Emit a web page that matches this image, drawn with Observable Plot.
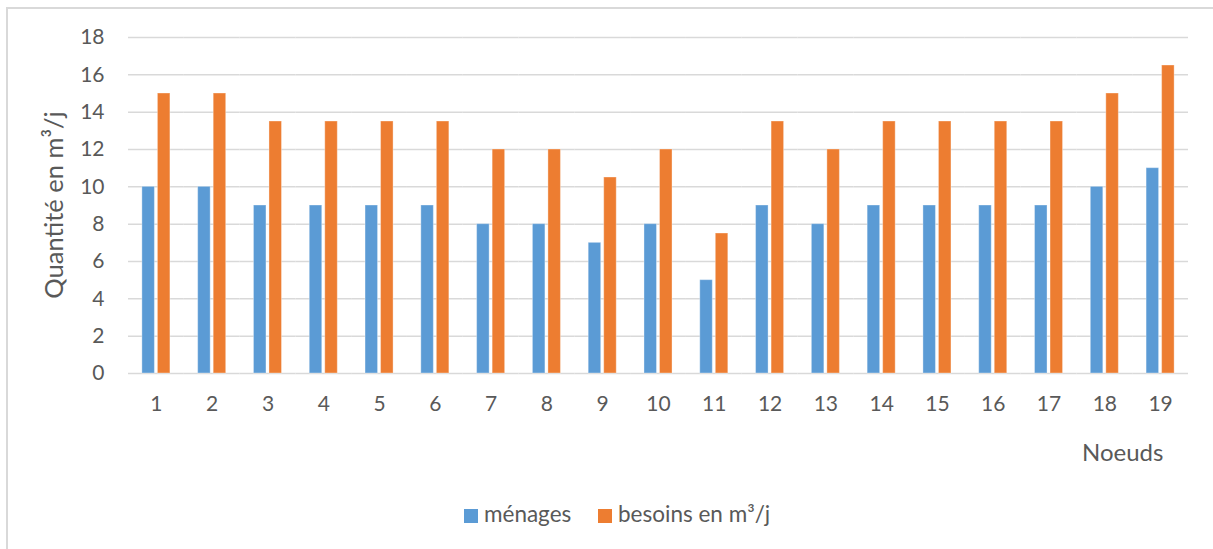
<!DOCTYPE html>
<html>
<head>
<meta charset="utf-8">
<script src="https://cdn.jsdelivr.net/npm/d3@7"></script>
<script src="https://cdn.jsdelivr.net/npm/@observablehq/plot@0.6"></script>
<style>
  html, body { margin: 0; padding: 0; background: #fff; }
  #wrap { position: relative; width: 1213px; height: 549px; overflow: hidden; font-family: Lato, "Open Sans", sans-serif; color: #595959; }
  #frame { position: absolute; left: 6px; top: 7px; width: 1300px; height: 600px; border-top: 2px solid #d9d9d9; border-left: 2px solid #d9d9d9; }
  #chart { position: absolute; left: 0; top: 0; }
  .lab { position: absolute; font-size: 22.5px; color: #595959; white-space: nowrap; line-height: 1; }
  .sw { position: absolute; width: 14px; height: 14px; }
</style>
</head>
<body>
<div id="wrap">
  <div id="frame"></div>
  <div id="chart"></div>
  <div class="lab" style="left:1082px; top:440px; font-size:24px;">Noeuds</div>
  <div class="sw" style="left:464px; top:509px; background:#5B9BD5;"></div>
  <div class="lab" style="left:484px; top:503px;">ménages</div>
  <div class="sw" style="left:598px; top:509px; background:#ED7D31;"></div>
  <div class="lab" style="left:618px; top:503px;">besoins en m³/j</div>
</div>
<script>
const nodes = ["1","2","3","4","5","6","7","8","9","10","11","12","13","14","15","16","17","18","19"];
const series = ["ménages", "besoins en m³/j"];
const menages = [10,10,9,9,9,9,8,8,7,8,5,9,8,9,9,9,9,10,11];
const besoins = [15,15,13.5,13.5,13.5,13.5,12,12,10.5,12,7.5,13.5,12,13.5,13.5,13.5,13.5,15,16.5];
const colors = ["#5B9BD5", "#ED7D31"];
const yTicks = [0,2,4,6,8,10,12,14,16,18];

const data = [];
nodes.forEach((n, i) => {
  data.push({node: n, serie: series[0], value: menages[i]});
  data.push({node: n, serie: series[1], value: besoins[i]});
});

const chart = Plot.plot({
  width: 1213,
  height: 549,
  marginLeft: 128,
  marginRight: 25,
  marginTop: 37,
  marginBottom: 176,
  facet: {marginTop: 0, marginRight: 0, marginBottom: 0, marginLeft: 0},
  style: {fontFamily: "Lato, 'Open Sans', sans-serif", fontSize: "21px", color: "#595959", background: "transparent", overflow: "visible"},
  fx: {domain: nodes, padding: 0, round: false, label: null, axis: null},
  x: {domain: series, paddingInner: 0.194, paddingOuter: 0.894, round: false, axis: null},
  y: {domain: [0, 18], ticks: yTicks, label: null, axis: null},
  color: {domain: series, range: colors},
  marks: [
    Plot.ruleY(yTicks, {stroke: "#d9d9d9", strokeWidth: 1.5}),
    Plot.barY(data, {fx: "node", x: "serie", y: "value", fill: "serie", stroke: "#ffffff", strokeOpacity: 0.35, strokeWidth: 1}),
    Plot.axisY({ticks: yTicks, tickSize: 0, tickPadding: 24, label: null, fontSize: 21}),
    Plot.axisFx({anchor: "bottom", tickSize: 0, tickPadding: 23, label: null, fontSize: 21})
  ]
});
document.getElementById("chart").appendChild(chart);

// Y axis title
const svg = d3.select(chart);
svg.append("text")
  .attr("transform", "translate(57,205) rotate(-90)")
  .attr("text-anchor", "middle")
  .attr("dominant-baseline", "middle")
  .attr("fill", "#595959")
  .style("font-size", "25.5px")
  .text("Quantité en m³/j");
</script>
</body>
</html>
